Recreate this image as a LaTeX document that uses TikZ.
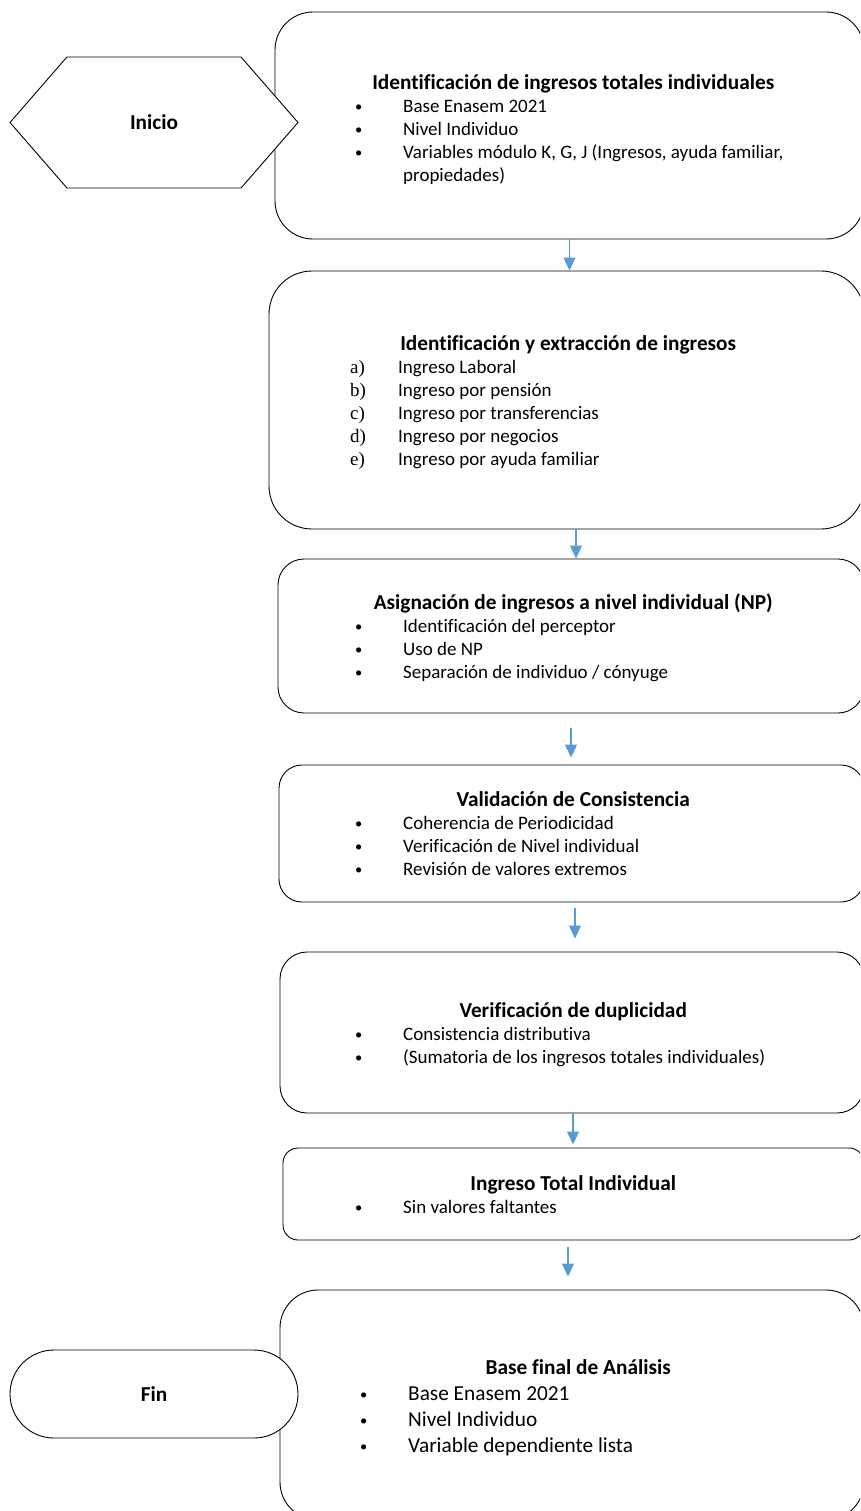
\documentclass[tikz,border=0pt]{standalone}
\usepackage{fontspec}
\setmainfont{Carlito}[Ligatures={NoCommon}]
\newfontfamily\timesfont{Liberation Serif}
\usepackage{xcolor}
\usepackage{tikz}
\usetikzlibrary{positioning,shapes.symbols,shapes.misc,arrows.meta}
\definecolor{flowblue}{HTML}{5B9BD5}

\newcommand{\titlefont}{\fontsize{21.3}{23}\selectfont\bfseries}
\newcommand{\itemfont}{\fontsize{19}{23}\selectfont}
\newcommand{\bigitemfont}{\fontsize{21.3}{26}\selectfont}
\newcommand{\dotitem}{{\fontsize{14.5}{14}\selectfont\raisebox{1pt}{\textbullet}}}
\newcommand{\stepcontent}[2]{\begin{tabular}{@{}p{48pt}@{}p{388pt}@{}}\multicolumn{2}{@{}c@{}}{\titlefont #1}\\ #2\end{tabular}}

\tikzset{
  stepbox/.style={draw=black, line width=0.9pt, rounded corners=#1, inner sep=0pt},
  stepbox/.default=30pt,
  steptext/.style={anchor=west, inner sep=0pt, yshift=-3pt, font=\itemfont},
  terminal/.style={draw=black, line width=0.9pt, fill=white, inner sep=0pt, font=\titlefont},
  flow/.style={flowblue, line width=1.2pt, -{Triangle[width=12pt,length=13pt]}}
}

\begin{document}
\begin{tikzpicture}[x=1pt,y=-1pt]
\useasboundingbox (0,0) rectangle (860,1511);
\clip (0,0) rectangle (860,1511);

\node[stepbox=38pt, minimum width=589pt, minimum height=227pt] (ident) at (569.5,125.5) {};
\node[stepbox=43pt, minimum width=595pt, minimum height=258pt] (extrac) at (566.5,400) {};
\node[stepbox=26pt, minimum width=586pt, minimum height=154pt] (asign) at (571,636) {};
\node[stepbox=23pt, minimum width=585pt, minimum height=137pt] (valid) at (571.5,833.5) {};
\node[stepbox=27pt, minimum width=584pt, minimum height=161pt] (dupli) at (572,1032.5) {};
\node[stepbox=15pt, minimum width=581pt, minimum height=92pt] (total) at (573.5,1194) {};
\node[stepbox=38pt, minimum width=584pt, minimum height=230pt] (final) at (572,1405) {};

\node[steptext, yshift=-2pt] (identtxt) at (ident.center -| 355,0) {\stepcontent{Identificación de ingresos totales individuales}{%
\dotitem & Base Enasem 2021\\
\dotitem & Nivel Individuo\\
\dotitem & Variables módulo K, G, J (Ingresos, ayuda familiar,\newline propiedades)}};
\node[steptext] (extractxt) at (extrac.center -| 350,0) {\stepcontent{Identificación y extracción de ingresos}{%
{\timesfont a)} & Ingreso Laboral\\
{\timesfont b)} & Ingreso por pensión\\
{\timesfont c)} & Ingreso por transferencias\\
{\timesfont d)} & Ingreso por negocios\\
{\timesfont e)} & Ingreso por ayuda familiar}};
\node[steptext] (asigntxt) at (asign.center -| 355,0) {\stepcontent{Asignación de ingresos a nivel individual (NP)}{%
\dotitem & Identificación del perceptor\\
\dotitem & Uso de NP\\
\dotitem & Separación de individuo / cónyuge}};
\node[steptext] (validtxt) at (valid.center -| 355,0) {\stepcontent{Validación de Consistencia}{%
\dotitem & Coherencia de Periodicidad\\
\dotitem & Verificación de Nivel individual\\
\dotitem & Revisión de valores extremos}};
\node[steptext] (duplitxt) at (dupli.center -| 355,0) {\stepcontent{Verificación de duplicidad}{%
\dotitem & Consistencia distributiva\\
\dotitem & (Sumatoria de los ingresos totales individuales)}};
\node[steptext] (totaltxt) at (total.center -| 355,0) {\stepcontent{Ingreso Total Individual}{%
\dotitem & Sin valores faltantes}};
\node[steptext, font=\bigitemfont] (finaltxt) at (final.center -| 360,0) {\stepcontent{Base final de Análisis}{%
\dotitem & Base Enasem 2021\\
\dotitem & Nivel Individuo\\
\dotitem & Variable dependiente lista}};

\node[terminal, shape=signal, signal to=east and west, signal pointer angle=98, minimum width=288pt, minimum height=131pt] (inicio) at (154,122.5) {Inicio};
\node[terminal, rounded rectangle, minimum width=288pt, minimum height=88pt] (fin) at (154,1394) {Fin};

\draw[flow] (ident) -- (ident |- extrac.north);
\draw[flow] ([xshift=9.5pt]extrac.south) -- ([xshift=9.5pt]extrac.south |- asign.north);
\draw[flow, shorten <=15pt, shorten >=7pt] (asign) -- (asign |- valid.north);
\draw[flow, shorten <=6pt, shorten >=13pt] ([xshift=3.5pt]valid.south) -- ([xshift=3.5pt]valid.south |- dupli.north);
\draw[flow, shorten >=3pt] ([xshift=1pt]dupli.south) -- ([xshift=1pt]dupli.south |- total.north);
\draw[flow, shorten <=7pt, shorten >=13pt] ([xshift=-5.5pt]total.south) -- ([xshift=-5.5pt]total.south |- final.north);
\end{tikzpicture}
\end{document}
